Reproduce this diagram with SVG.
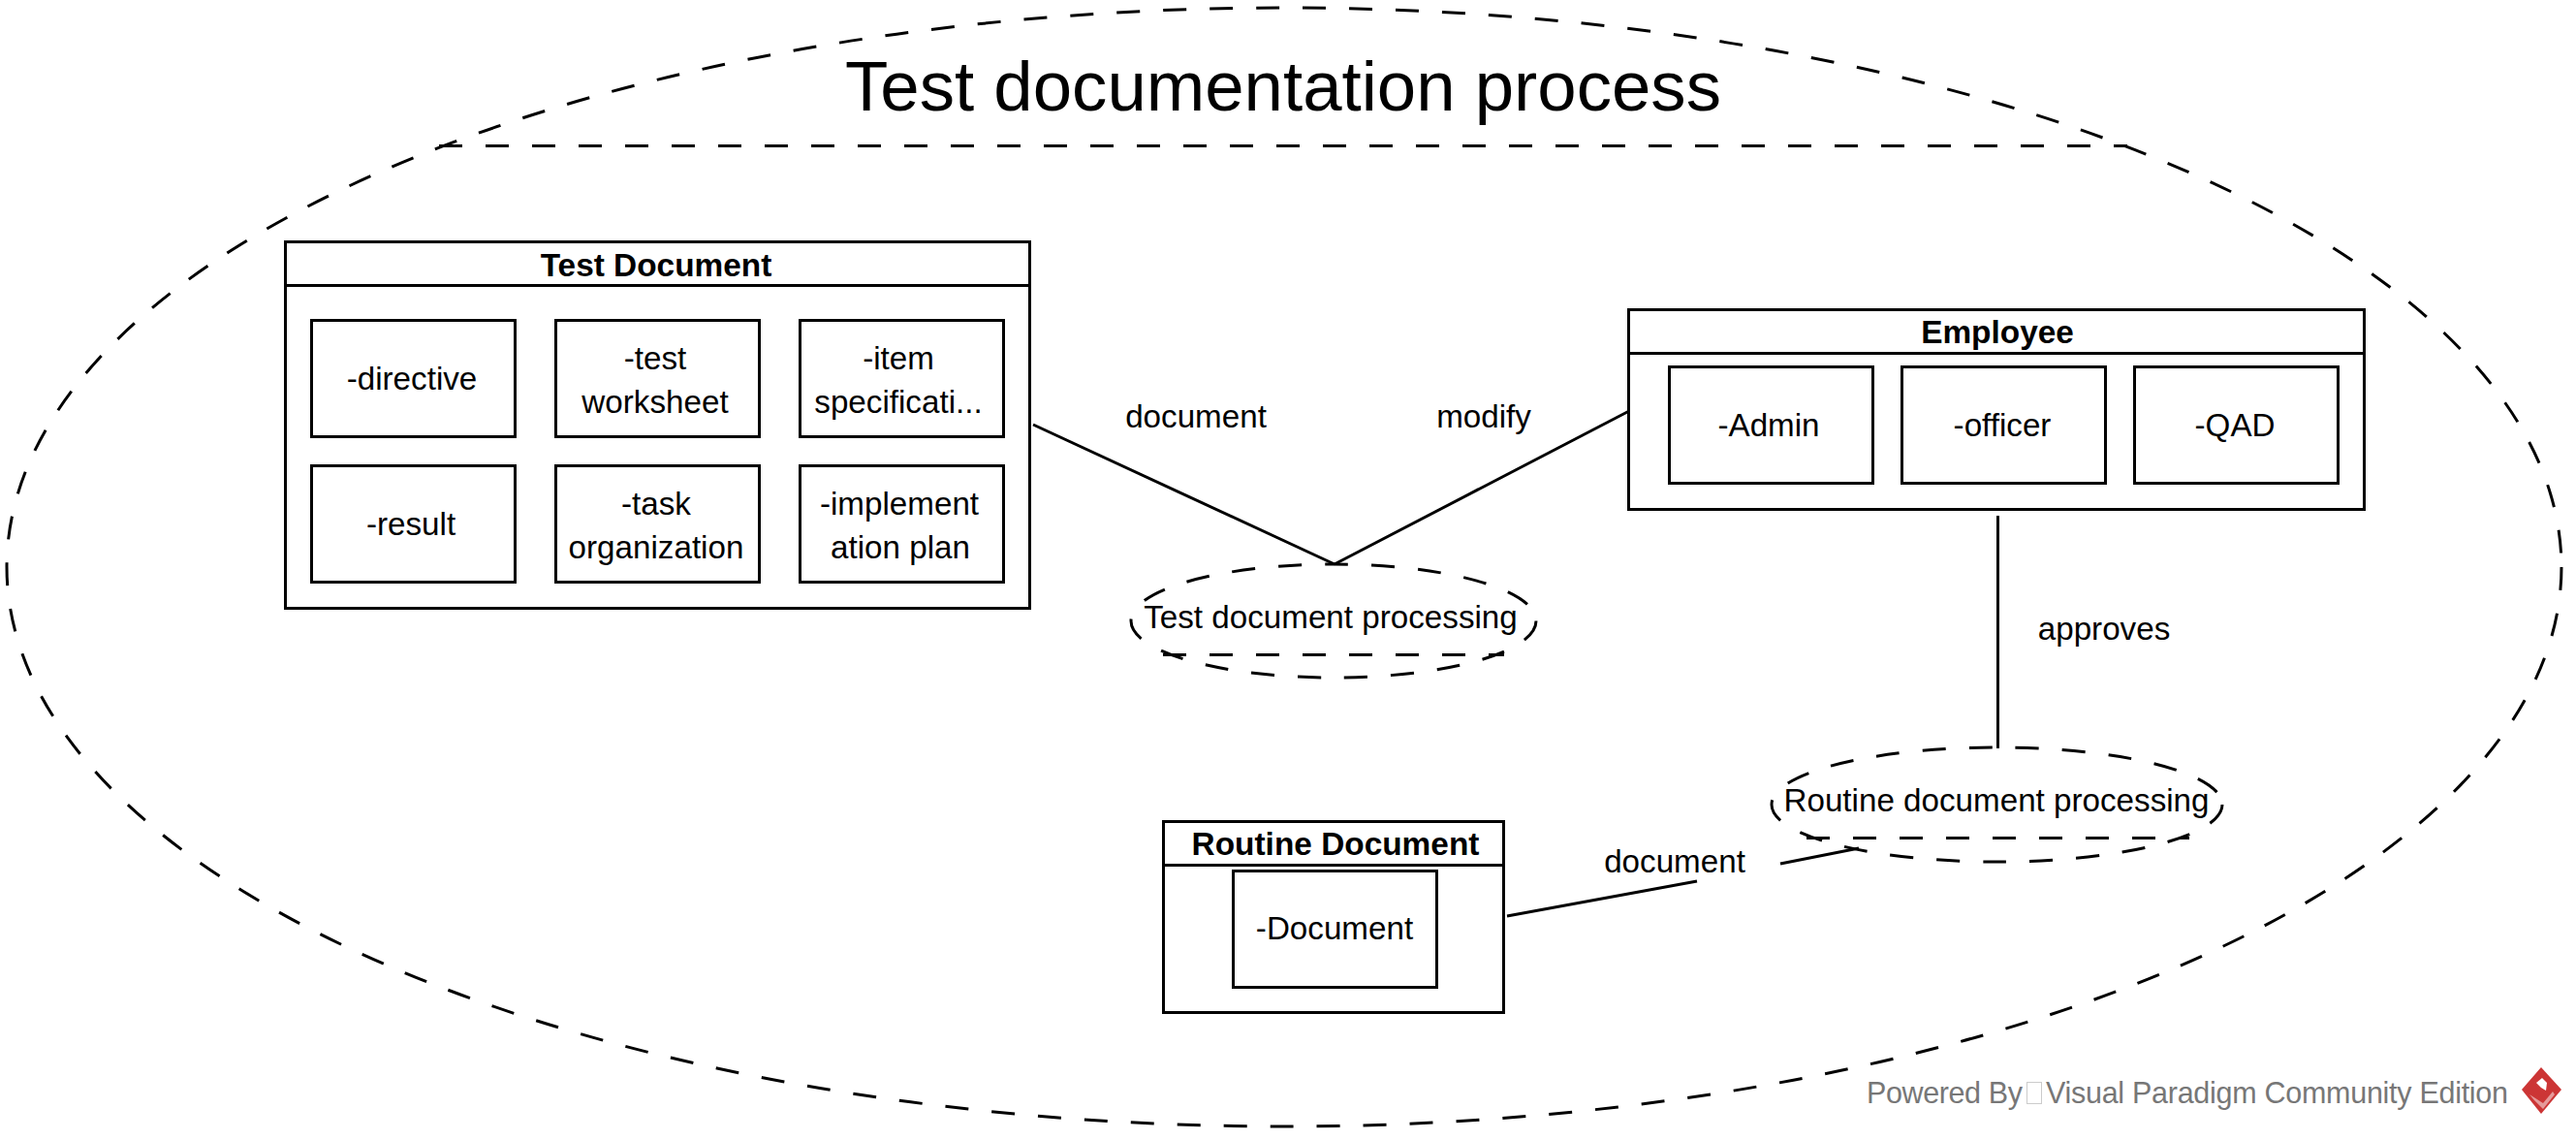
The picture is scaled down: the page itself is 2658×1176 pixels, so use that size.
<svg xmlns="http://www.w3.org/2000/svg" width="2658" height="1176" viewBox="0 0 2658 1176">
<style>
text{font-family:"Liberation Sans",Arial,sans-serif;font-size:33.2px;fill:#000;text-anchor:middle}
.b{font-weight:bold;font-size:33.4px}
.box{fill:#fff;stroke:#000;stroke-width:3}
.d{fill:none;stroke:#000;stroke-width:3;stroke-dasharray:24 24}
.c{fill:none;stroke:#000;stroke-width:3}
.l{fill:none;stroke:#000;stroke-width:3}
.w{font-size:30.5px;fill:#777;text-anchor:start}
</style>
<rect width="2658" height="1176" fill="#fff"/>
<g id="system">
<ellipse class="d" cx="1325" cy="585" rx="1318" ry="577"/>
<path class="d" d="M453 150.500H2195"/>
<text x="1324" y="114" style="font-size:72.6px">Test documentation process</text>
</g>
<g id="connectors">
<path class="c" d="M1066 438L1377 582"/>
<path class="c" d="M1681 424L1377 582"/>
<path class="c" d="M2061.500 532V772"/>
<path class="c" d="M1555 945L1751 909"/>
<path class="c" d="M1837 891L1918 875"/>
</g>
<g id="conn-labels">
<text x="1234" y="441">document</text>
<text x="1531" y="441">modify</text>
<text x="2171" y="660">approves</text>
<text x="1728" y="900">document</text>
</g>
<g id="test-document">
<rect class="box" x="294.500" y="249.500" width="768" height="378"/>
<path class="l" d="M294.500 294.500H1062.500"/>
<text class="b" x="677" y="285">Test Document</text>
</g>
<g id="n-directive"><rect class="box" x="321.500" y="330.500" width="210" height="120"/><text x="425" y="402">-directive</text></g>
<g id="n-worksheet"><rect class="box" x="573.500" y="330.500" width="210" height="120"/><text x="676" y="381">-test</text><text x="676" y="426">worksheet</text></g>
<g id="n-item"><rect class="box" x="825.500" y="330.500" width="210" height="120"/><text x="927" y="381">-item</text><text x="927" y="426">specificati...</text></g>
<g id="n-result"><rect class="box" x="321.500" y="480.500" width="210" height="120"/><text x="424" y="552">-result</text></g>
<g id="n-task"><rect class="box" x="573.500" y="480.500" width="210" height="120"/><text x="677" y="531">-task</text><text x="677" y="576">organization</text></g>
<g id="n-implement"><rect class="box" x="825.500" y="480.500" width="210" height="120"/><text x="928" y="531">-implement</text><text x="929" y="576">ation plan</text></g>
<g id="employee">
<rect class="box" x="1680.500" y="319.500" width="759" height="206"/>
<path class="l" d="M1680.500 364.500H2439.500"/>
<text class="b" x="2061" y="354">Employee</text>
</g>
<g id="n-admin"><rect class="box" x="1722.500" y="378.500" width="210" height="120"/><text x="1825" y="450">-Admin</text></g>
<g id="n-officer"><rect class="box" x="1962.500" y="378.500" width="210" height="120"/><text x="2066" y="450">-officer</text></g>
<g id="n-qad"><rect class="box" x="2202.500" y="378.500" width="210" height="120"/><text x="2306" y="450">-QAD</text></g>
<g id="test-processing">
<ellipse class="d" cx="1376" cy="640.500" rx="209" ry="58.500"/>
<path class="d" d="M1200 675.500H1552"/>
<text x="1373" y="648">Test document processing</text>
</g>
<g id="routine-processing">
<ellipse class="d" cx="2060.500" cy="830" rx="232.500" ry="59"/>
<path class="d" d="M1864 864.500H2259"/>
<text x="2060" y="837">Routine document processing</text>
</g>
<g id="routine-document">
<rect class="box" x="1200.500" y="847.500" width="351" height="197"/>
<path class="l" d="M1200.500 892.500H1551.500"/>
<text class="b" x="1378" y="882">Routine Document</text>
</g>
<g id="n-document"><rect class="box" x="1272.500" y="898.500" width="210" height="120"/><text x="1377" y="969">-Document</text></g>
<g id="watermark">
<text class="w" x="1926" y="1138" textLength="161">Powered By</text>
<rect x="2091.500" y="1116.500" width="15" height="22" fill="none" stroke="#ccc" stroke-width="1"/>
<text class="w" x="2111" y="1138" textLength="477">Visual Paradigm Community Edition</text>
<g id="logo">
<path d="M2622 1101L2643 1124L2622 1149L2602 1124Z" fill="#cc3535"/>
<path d="M2617 1117L2623 1112L2628 1117L2627 1125L2622 1122Z" fill="#fff"/>
<path d="M2610 1129L2624 1138L2634 1126L2636 1129L2624 1144L2614 1134Z" fill="#e59a9a"/>
</g>
</g>
</svg>
